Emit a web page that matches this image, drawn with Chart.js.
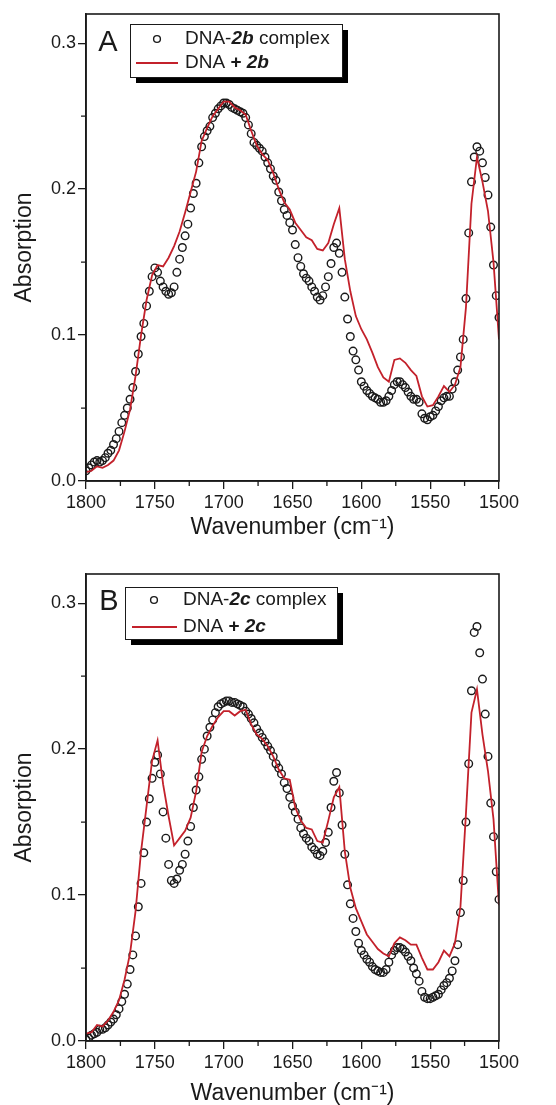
<!DOCTYPE html>
<html>
<head>
<meta charset="utf-8">
<script src="https://cdn.jsdelivr.net/npm/chart.js@4.4.0/dist/chart.umd.min.js"></script>
<style>
  html, body { margin: 0; padding: 0; background: #fff; }
  #wrap { position: relative; width: 556px; height: 1105px; overflow: hidden; }
  canvas { position: absolute; left: 0; }
  #grafA { top: 0; }
  #grafB { top: 552px; }
</style>
</head>
<body>
<div id="wrap">
  <canvas id="grafA" width="556" height="552"></canvas>
  <canvas id="grafB" width="556" height="553"></canvas>
</div>
<script>
// numero de onda (cm-1) de los circulos y de la linea
const ondaPuntos = [
  1800, 1798, 1796, 1794, 1792, 1790, 1788, 1786, 1784, 1782,
  1780, 1778, 1776, 1774, 1772, 1770, 1768, 1766, 1764, 1762,
  1760, 1758, 1756, 1754, 1752, 1750, 1748, 1746, 1744, 1742,
  1740, 1738, 1736, 1734, 1732, 1730, 1728, 1726, 1724, 1722,
  1720, 1718, 1716, 1714, 1712, 1710, 1708, 1706, 1704, 1702,
  1700, 1698, 1696, 1694, 1692, 1690, 1688, 1686, 1684, 1682,
  1680, 1678, 1676, 1674, 1672, 1670, 1668, 1666, 1664, 1662,
  1660, 1658, 1656, 1654, 1652, 1650, 1648, 1646, 1644, 1642,
  1640, 1638, 1636, 1634, 1632, 1630, 1628, 1626, 1624, 1622,
  1620, 1618, 1616, 1614, 1612, 1610, 1608, 1606, 1604, 1602,
  1600, 1598, 1596, 1594, 1592, 1590, 1588, 1586, 1584, 1582,
  1580, 1578, 1576, 1574, 1572, 1570, 1568, 1566, 1564, 1562,
  1560, 1558, 1556, 1554, 1552, 1550, 1548, 1546, 1544, 1542,
  1540, 1538, 1536, 1534, 1532, 1530, 1528, 1526, 1524, 1522,
  1520, 1518, 1516, 1514, 1512, 1510, 1508, 1506, 1504, 1502,
  1500
];
const ondaLinea = [
  1800, 1796, 1792, 1788, 1784, 1780, 1776, 1772, 1768, 1764,
  1760, 1756, 1752, 1748, 1744, 1740, 1736, 1732, 1728, 1724,
  1720, 1716, 1712, 1708, 1704, 1700, 1696, 1692, 1688, 1684,
  1680, 1676, 1672, 1668, 1664, 1660, 1656, 1652, 1648, 1644,
  1640, 1636, 1632, 1628, 1624, 1620, 1616, 1612, 1608, 1604,
  1600, 1596, 1592, 1588, 1584, 1580, 1576, 1572, 1568, 1564,
  1560, 1556, 1552, 1548, 1544, 1540, 1536, 1532, 1528, 1524,
  1520, 1516, 1512, 1508, 1504, 1500
];

// panel A: DNA-2b complex (circulos) y DNA + 2b (linea)
const complejoA = [
  0.007, 0.009, 0.011, 0.013, 0.014, 0.013, 0.014, 0.016, 0.019, 0.021,
  0.025, 0.029, 0.034, 0.040, 0.045, 0.050, 0.056, 0.064, 0.075, 0.087,
  0.099, 0.108, 0.120, 0.130, 0.140, 0.146, 0.143, 0.137, 0.133, 0.130,
  0.128, 0.129, 0.133, 0.143, 0.152, 0.160, 0.168, 0.176, 0.187, 0.197,
  0.204, 0.218, 0.229, 0.236, 0.240, 0.243, 0.249, 0.252, 0.255, 0.257,
  0.259, 0.259, 0.258, 0.256, 0.255, 0.254, 0.253, 0.252, 0.249, 0.244,
  0.238, 0.232, 0.230, 0.228, 0.226, 0.222, 0.218, 0.214, 0.209, 0.206,
  0.198, 0.192, 0.186, 0.182, 0.177, 0.172, 0.162, 0.153, 0.147, 0.142,
  0.139, 0.137, 0.133, 0.130, 0.126, 0.124, 0.127, 0.133, 0.140, 0.149,
  0.160, 0.163, 0.156, 0.143, 0.126, 0.111, 0.099, 0.089, 0.083, 0.076,
  0.068, 0.065, 0.062, 0.060, 0.058, 0.057, 0.056, 0.054, 0.054, 0.055,
  0.058, 0.062, 0.066, 0.068, 0.068, 0.066, 0.064, 0.061, 0.058, 0.056,
  0.056, 0.054, 0.046, 0.043, 0.042, 0.044, 0.045, 0.048, 0.051, 0.055,
  0.057, 0.058, 0.058, 0.063, 0.068, 0.076, 0.085, 0.097, 0.125, 0.170,
  0.205, 0.222, 0.229, 0.226, 0.218, 0.208, 0.196, 0.174, 0.148, 0.127,
  0.112
];
const mezclaA = [
  0.006, 0.007, 0.010, 0.009, 0.011, 0.014, 0.021, 0.034, 0.049, 0.072,
  0.100, 0.124, 0.141, 0.148, 0.147, 0.153, 0.161, 0.171, 0.184, 0.198,
  0.212, 0.233, 0.242, 0.250, 0.255, 0.260, 0.260, 0.256, 0.254, 0.251,
  0.240, 0.230, 0.224, 0.220, 0.211, 0.200, 0.191, 0.186, 0.177, 0.172,
  0.167, 0.165, 0.159, 0.158, 0.163, 0.176, 0.187, 0.152, 0.130, 0.113,
  0.104, 0.097, 0.088, 0.078, 0.071, 0.068, 0.083, 0.084, 0.081, 0.076,
  0.072, 0.058, 0.051, 0.052, 0.058, 0.065, 0.061, 0.066, 0.078, 0.119,
  0.190, 0.222, 0.205, 0.185, 0.150, 0.097
];

// panel B: DNA-2c complex (circulos) y DNA + 2c (linea)
const complejoB = [
  0.001, 0.002, 0.004, 0.005, 0.006, 0.008, 0.008, 0.009, 0.011, 0.013,
  0.015, 0.018, 0.022, 0.027, 0.032, 0.039, 0.049, 0.059, 0.072, 0.092,
  0.108, 0.129, 0.150, 0.166, 0.180, 0.191, 0.196, 0.183, 0.157, 0.139,
  0.121, 0.110, 0.108, 0.111, 0.117, 0.121, 0.128, 0.137, 0.147, 0.160,
  0.172, 0.181, 0.193, 0.200, 0.209, 0.215, 0.220, 0.225, 0.229, 0.231,
  0.232, 0.233, 0.233, 0.232, 0.232, 0.231, 0.230, 0.229, 0.226, 0.224,
  0.221, 0.218, 0.214, 0.211, 0.208, 0.205, 0.202, 0.199, 0.195, 0.190,
  0.187, 0.183, 0.177, 0.173, 0.167, 0.161, 0.157, 0.152, 0.146, 0.142,
  0.139, 0.137, 0.133, 0.131, 0.128, 0.127, 0.130, 0.136, 0.143, 0.160,
  0.178, 0.184, 0.170, 0.148, 0.128, 0.107, 0.094, 0.084, 0.075, 0.067,
  0.062, 0.059, 0.056, 0.054, 0.051, 0.049, 0.048, 0.047, 0.047, 0.049,
  0.054, 0.059, 0.062, 0.064, 0.064, 0.063, 0.061, 0.058, 0.055, 0.050,
  0.046, 0.041, 0.034, 0.030, 0.029, 0.029, 0.030, 0.031, 0.032, 0.035,
  0.038, 0.040, 0.043, 0.048, 0.055, 0.066, 0.088, 0.110, 0.150, 0.190,
  0.240, 0.280, 0.284, 0.266, 0.248, 0.224, 0.195, 0.163, 0.140, 0.116,
  0.097
];
const mezclaB = [
  0.005, 0.006, 0.011, 0.010, 0.014, 0.020, 0.028, 0.042, 0.060, 0.089,
  0.130, 0.161, 0.192, 0.206, 0.176, 0.154, 0.134, 0.139, 0.144, 0.153,
  0.171, 0.198, 0.209, 0.216, 0.222, 0.226, 0.226, 0.223, 0.226, 0.227,
  0.217, 0.210, 0.207, 0.202, 0.195, 0.186, 0.180, 0.179, 0.160, 0.151,
  0.146, 0.145, 0.137, 0.136, 0.151, 0.167, 0.174, 0.130, 0.105, 0.091,
  0.082, 0.073, 0.068, 0.063, 0.060, 0.058, 0.067, 0.071, 0.069, 0.066,
  0.066, 0.057, 0.049, 0.049, 0.054, 0.062, 0.058, 0.067, 0.092, 0.156,
  0.225, 0.241, 0.210, 0.185, 0.152, 0.093
];

// marcas de los ejes
const ticksX = [1800, 1750, 1700, 1650, 1600, 1550, 1500];
const menoresX = [1775, 1725, 1675, 1625, 1575, 1525];
const ticksY = [0.0, 0.1, 0.2, 0.3];
const menoresY = [0.05, 0.15, 0.25];

const fuente = '"Liberation Sans", Arial, Helvetica, sans-serif';
const rojo = '#c3212b';
const negro = '#1a1a1a';

// estilo: 'n' normal, 'b' negrita, 'bi' negrita cursiva
function textoRico(ctx, partes, x, y, size) {
  partes.forEach(p => {
    const pre = p.s === 'bi' ? 'italic bold ' : (p.s === 'b' ? 'bold ' : '');
    ctx.font = pre + size + 'px ' + fuente;
    ctx.fillText(p.t, x, y);
    x += ctx.measureText(p.t).width;
  });
}

// marco, marcas menores, letra del panel y leyenda con sombra
const marcoPlugin = {
  id: 'marco',
  afterDraw(chart, args, o) {
    const { ctx, chartArea: a, scales: { x, y } } = chart;
    ctx.save();
    ctx.strokeStyle = negro;
    ctx.lineWidth = 1.3;
    ctx.beginPath();
    menoresX.forEach(v => {
      const px = x.getPixelForValue(v);
      ctx.moveTo(px, a.bottom);
      ctx.lineTo(px, a.bottom + 5);
    });
    menoresY.forEach(v => {
      const py = y.getPixelForValue(v);
      ctx.moveTo(a.left, py);
      ctx.lineTo(a.left - 5, py);
    });
    ctx.stroke();

    ctx.lineWidth = 1.6;
    ctx.strokeRect(a.left, a.top, a.right - a.left, a.bottom - a.top);

    ctx.fillStyle = negro;
    ctx.font = '29px ' + fuente;
    ctx.textAlign = 'center';
    ctx.textBaseline = 'middle';
    ctx.fillText(o.letra, o.letraX, o.letraY);

    const [bx, by, bw, bh] = o.caja;
    ctx.fillStyle = '#000';
    ctx.fillRect(bx + 6, by + 6, bw, bh);
    ctx.fillStyle = '#fff';
    ctx.fillRect(bx, by, bw, bh);
    ctx.lineWidth = 1;
    ctx.strokeStyle = negro;
    ctx.strokeRect(bx + 0.5, by + 0.5, bw, bh);

    ctx.beginPath();
    ctx.lineWidth = 1.4;
    ctx.arc(o.marcaX, o.fila1, 3.4, 0, Math.PI * 2);
    ctx.stroke();
    ctx.beginPath();
    ctx.strokeStyle = rojo;
    ctx.lineWidth = 1.8;
    ctx.moveTo(o.lineaX[0], o.fila2);
    ctx.lineTo(o.lineaX[1], o.fila2);
    ctx.stroke();

    ctx.fillStyle = negro;
    ctx.textAlign = 'left';
    textoRico(ctx, o.texto1, o.textoX, o.fila1, 19);
    textoRico(ctx, o.texto2, o.textoX, o.fila2, 19);
    ctx.restore();
  }
};

function crearGrafico(canvas, puntos, linea, cfg) {
  return new Chart(canvas, {
    type: 'scatter',
    data: {
      datasets: [
        {
          label: 'linea',
          data: ondaLinea.map((w, i) => ({ x: w, y: linea[i] })),
          showLine: true,
          borderColor: rojo,
          borderWidth: 1.8,
          pointRadius: 0,
          tension: 0
        },
        {
          label: 'puntos',
          data: ondaPuntos.map((w, i) => ({ x: w, y: puntos[i] })),
          showLine: false,
          pointRadius: 3.8,
          pointBorderWidth: 1.4,
          pointBorderColor: negro,
          pointBackgroundColor: 'rgba(255,255,255,0)'
        }
      ]
    },
    options: {
      responsive: false,
      animation: false,
      devicePixelRatio: 1,
      layout: { padding: { top: cfg.arriba, right: 57, bottom: 0, left: 0 } },
      plugins: { legend: { display: false }, tooltip: { enabled: false }, marco: cfg },
      scales: {
        x: {
          type: 'linear',
          reverse: true,
          min: 1500,
          max: 1800,
          afterBuildTicks: s => { s.ticks = ticksX.map(v => ({ value: v })); },
          afterFit: s => { s.height = cfg.altoX; },
          grid: { drawOnChartArea: false, drawTicks: true, tickLength: 8, color: negro, lineWidth: 1.3 },
          border: { display: true, color: negro, width: 1.6 },
          ticks: {
            font: { size: 18, family: fuente },
            color: negro,
            padding: 3,
            maxRotation: 0,
            autoSkip: false,
            callback: v => String(v)
          },
          title: {
            display: true,
            text: 'Wavenumber (cm⁻¹)',
            color: negro,
            font: { size: 23, family: fuente, lineHeight: 1 },
            padding: { top: 0, bottom: cfg.padTitulo }
          }
        },
        y: {
          min: 0,
          max: 0.32,
          afterBuildTicks: s => { s.ticks = ticksY.map(v => ({ value: v })); },
          afterFit: s => { s.width = 86; },
          grid: { drawOnChartArea: false, drawTicks: true, tickLength: 8, color: negro, lineWidth: 1.3 },
          border: { display: true, color: negro, width: 1.6 },
          ticks: {
            font: { size: 18, family: fuente },
            color: negro,
            padding: 2,
            callback: v => Number(v).toFixed(1)
          },
          title: {
            display: true,
            text: 'Absorption',
            color: negro,
            font: { size: 23, family: fuente, lineHeight: 1 },
            padding: { top: 13, bottom: 0 }
          }
        }
      }
    },
    plugins: [marcoPlugin]
  });
}

crearGrafico(document.getElementById('grafA'), complejoA, mezclaA, {
  arriba: 14, altoX: 71, padTitulo: 13,
  letra: 'A', letraX: 108, letraY: 43,
  caja: [130, 24, 212, 53],
  marcaX: 157, lineaX: [136, 178], textoX: 185, fila1: 39, fila2: 63,
  texto1: [{ t: 'DNA-', s: 'n' }, { t: '2b', s: 'bi' }, { t: ' complex', s: 'n' }],
  texto2: [{ t: 'DNA ', s: 'n' }, { t: '+ ', s: 'b' }, { t: '2b', s: 'bi' }]
});

crearGrafico(document.getElementById('grafB'), complejoB, mezclaB, {
  arriba: 22, altoX: 64, padTitulo: 0,
  letra: 'B', letraX: 109, letraY: 50,
  caja: [125, 35, 212, 52],
  marcaX: 154, lineaX: [132, 177], textoX: 183, fila1: 48, fila2: 75,
  texto1: [{ t: 'DNA-', s: 'n' }, { t: '2c', s: 'bi' }, { t: ' complex', s: 'n' }],
  texto2: [{ t: 'DNA ', s: 'n' }, { t: '+ ', s: 'b' }, { t: '2c', s: 'bi' }]
});
</script>
</body>
</html>
